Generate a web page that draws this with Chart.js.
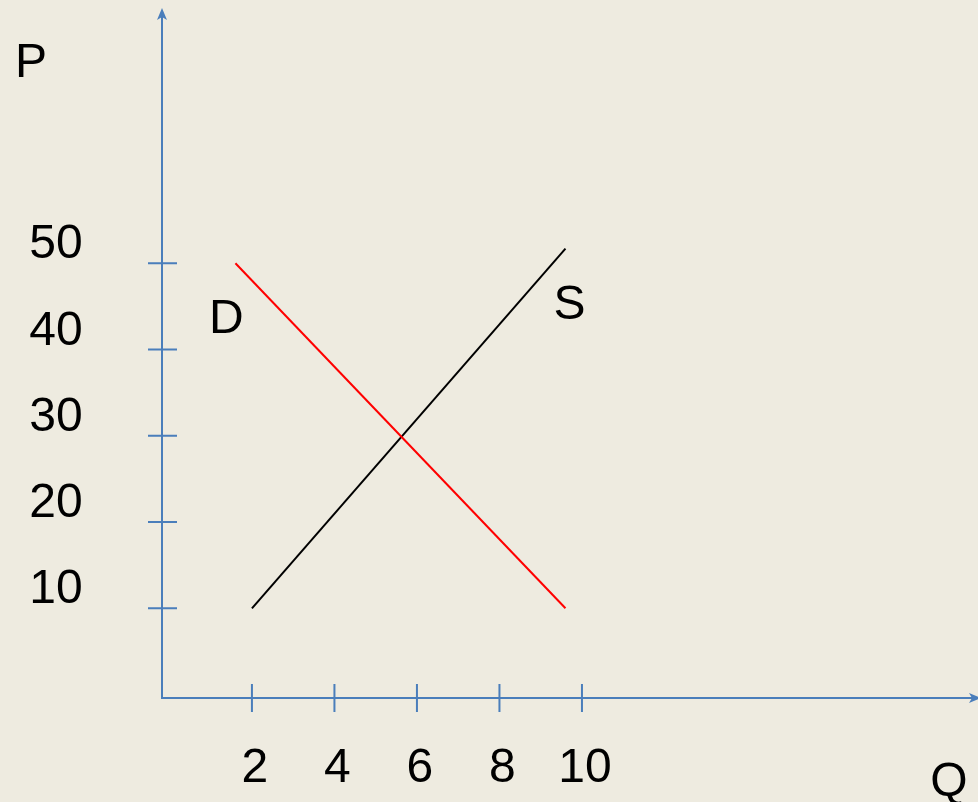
<!DOCTYPE html>
<html>
<head>
<meta charset="utf-8">
<script src="https://cdn.jsdelivr.net/npm/chart.js@4/dist/chart.umd.min.js"></script>
<style>
  html, body { margin: 0; padding: 0; background: #eeebe0; }
  canvas { display: block; }
</style>
</head>
<body>
<canvas id="sdChart" width="978" height="802"></canvas>
<script>
// quantity / price pairs
const demandQ = [1.6, 9.6];
const demandP = [50, 10];
const supplyQ = [2, 9.6];
const supplyP = [10, 51.7];

const xTicks = [2, 4, 6, 8, 10];
const yTicks = [10, 20, 30, 40, 50];

const axisColor = "#4a7ebb";
const labelFont = "48px 'Liberation Sans', Arial, sans-serif";

function toPoints(xs, ys) {
  return xs.map((x, i) => ({ x: x, y: ys[i] }));
}

function arrowHead(ctx, x, y, dir) {
  // dir: "up" or "right"
  ctx.beginPath();
  if (dir === "up") {
    ctx.moveTo(x, y);
    ctx.lineTo(x - 5, y + 12);
    ctx.lineTo(x, y + 9);
    ctx.lineTo(x + 5, y + 12);
  } else {
    ctx.moveTo(x, y);
    ctx.lineTo(x - 12, y - 5);
    ctx.lineTo(x - 9, y);
    ctx.lineTo(x - 12, y + 5);
  }
  ctx.closePath();
  ctx.fill();
}

const axesPlugin = {
  id: "econAxes",
  beforeDraw(chart) {
    const ctx = chart.ctx;
    ctx.save();
    ctx.fillStyle = "#eeebe0";
    ctx.fillRect(0, 0, chart.width, chart.height);
    ctx.restore();
  },
  beforeDatasetsDraw(chart) {
    const ctx = chart.ctx;
    const area = chart.chartArea;
    const xs = chart.scales.x;
    const ys = chart.scales.y;

    ctx.save();
    ctx.strokeStyle = axisColor;
    ctx.fillStyle = axisColor;
    ctx.lineWidth = 2;

    // axes
    ctx.beginPath();
    ctx.moveTo(area.left, area.top + 4);
    ctx.lineTo(area.left, area.bottom);
    ctx.lineTo(area.right - 4, area.bottom);
    ctx.stroke();
    arrowHead(ctx, area.left, area.top, "up");
    arrowHead(ctx, area.right + 3, area.bottom, "right");

    // tick marks crossing the axes
    ctx.beginPath();
    yTicks.forEach(v => {
      const py = ys.getPixelForValue(v);
      ctx.moveTo(area.left - 14, py);
      ctx.lineTo(area.left + 15, py);
    });
    xTicks.forEach(v => {
      const px = xs.getPixelForValue(v);
      ctx.moveTo(px, area.bottom - 14);
      ctx.lineTo(px, area.bottom + 14);
    });
    ctx.stroke();

    // tick labels
    ctx.fillStyle = "#000";
    ctx.font = labelFont;
    ctx.textAlign = "center";
    ctx.textBaseline = "alphabetic";
    yTicks.forEach(v => {
      ctx.fillText(String(v), 56, ys.getPixelForValue(v) - 5);
    });
    xTicks.forEach(v => {
      ctx.fillText(String(v), xs.getPixelForValue(v) + 3, 782);
    });

    // axis titles
    ctx.fillText("P", 31, 77);
    ctx.fillText("Q", 949, 796);

    // curve labels, placed next to the line ends
    const dStart = { x: xs.getPixelForValue(demandQ[0]), y: ys.getPixelForValue(demandP[0]) };
    const sEnd = { x: xs.getPixelForValue(supplyQ[1]), y: ys.getPixelForValue(supplyP[1]) };
    ctx.fillText("D", dStart.x - 9, dStart.y + 70);
    ctx.fillText("S", sEnd.x + 4, sEnd.y + 70);
    ctx.restore();
  }
};

const config = {
  type: "scatter",
  data: {
    datasets: [
      {
        label: "D",
        data: toPoints(demandQ, demandP),
        showLine: true,
        borderColor: "#ff0000",
        borderWidth: 2,
        pointRadius: 0,
        fill: false,
      },
      {
        label: "S",
        data: toPoints(supplyQ, supplyP),
        showLine: true,
        borderColor: "#000000",
        borderWidth: 2,
        pointRadius: 0,
        fill: false,
      },
    ],
  },
  options: {
    responsive: false,
    animation: false,
    devicePixelRatio: 1,
    layout: {
      padding: { left: 162, right: 0, top: 8, bottom: 104 },
    },
    scales: {
      x: { type: "linear", min: -0.18, max: 19.6, display: false },
      y: { type: "linear", min: -0.4, max: 79.6, display: false },
    },
    plugins: {
      legend: { display: false },
      tooltip: { enabled: false },
      title: { display: false },
    },
  },
  plugins: [axesPlugin],
};

const ctx = document.getElementById("sdChart").getContext("2d");
const sdChart = new Chart(ctx, config);
</script>
</body>
</html>
